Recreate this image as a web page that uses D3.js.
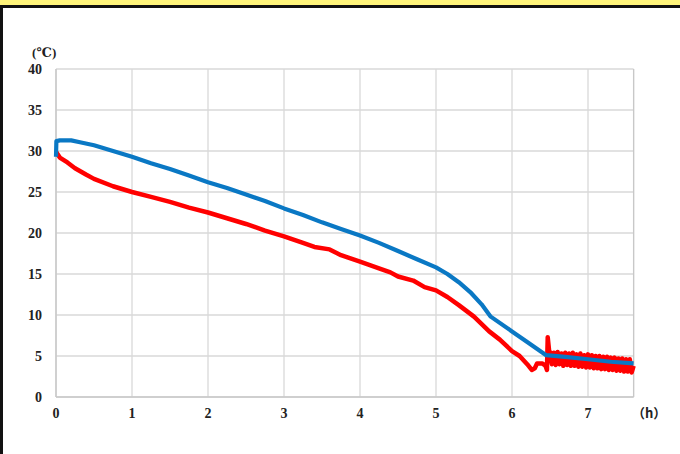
<!DOCTYPE html>
<html><head><meta charset="utf-8">
<script src="https://cdn.jsdelivr.net/npm/d3@7"></script>
<style>html,body{margin:0;padding:0;background:#fff;overflow:hidden}
.cjk{font-family:"Noto Sans CJK SC","Noto Sans CJK JP",sans-serif;}
</style>
</head><body>
<svg id="c" width="680" height="454"></svg>
<script>
const xTicks = [0,1,2,3,4,5,6,7];
const yTicks = [0,5,10,15,20,25,30,35,40];
const yUnit = "(℃)";
const xUnit = "（h）";

const blueT = [0,0.005,0.05,0.2,0.3,0.5,0.75,1,1.25,1.5,1.75,2,2.25,2.5,2.75,3,3.25,3.5,3.75,4,4.25,4.5,4.75,5,5.15,5.3,5.45,5.6,5.72,6,6.2,6.45,6.7,7,7.3,7.6];
const blueV = [29.3,31.2,31.3,31.3,31.1,30.7,30.0,29.3,28.5,27.8,27.0,26.2,25.5,24.7,23.9,23.0,22.2,21.3,20.5,19.7,18.8,17.8,16.8,15.8,15.0,14.0,12.8,11.3,9.8,8.0,6.7,5.1,4.9,4.6,4.3,4.1];

const redT = [0,0.05,0.15,0.25,0.4,0.5,0.75,1,1.25,1.5,1.75,2,2.25,2.5,2.75,3,3.25,3.4,3.6,3.75,4,4.25,4.4,4.5,4.7,4.85,5,5.15,5.3,5.5,5.7,5.84,6,6.1,6.2,6.26,6.3,6.33,6.4,6.44,6.46,6.47,6.49,
  6.5,6.525,6.55,6.575,6.6,6.625,6.65,6.675,6.7,6.725,6.75,6.775,6.8,6.825,6.85,6.875,6.9,6.925,6.95,6.975,7.0,7.025,7.05,7.075,7.1,7.125,7.15,7.175,7.2,7.225,7.25,7.275,7.3,7.325,7.35,7.375,7.4,7.425,7.45,7.475,7.5,7.525,7.55,7.575,7.6];
const redV = [29.9,29.2,28.6,27.9,27.1,26.6,25.7,25.0,24.4,23.8,23.1,22.5,21.8,21.1,20.3,19.6,18.8,18.3,18.0,17.3,16.5,15.7,15.2,14.7,14.2,13.4,13.0,12.2,11.2,9.8,8.0,7.0,5.6,5.0,4.0,3.3,3.5,4.1,4.1,3.8,3.3,7.3,5.5,
  5.5,4.0,5.4,3.9,5.5,4.0,5.3,3.8,5.4,3.9,5.3,3.8,5.4,3.8,5.2,3.7,5.3,3.7,5.1,3.6,5.2,3.6,5.1,3.5,5.0,3.5,5.0,3.4,4.9,3.4,4.9,3.3,4.8,3.3,4.8,3.2,4.7,3.2,4.7,3.1,4.6,3.1,4.6,3.0,3.8];

const svg = d3.select("#c");
svg.append("rect").attr("x",0).attr("y",0).attr("width",680).attr("height",6).attr("fill","#fff47a");
svg.append("rect").attr("x",0).attr("y",5).attr("width",680).attr("height",3).attr("fill","#111");
svg.append("rect").attr("x",0).attr("y",6).attr("width",3).attr("height",448).attr("fill","#111");

const x = d3.scaleLinear().domain([0,7.6]).range([56,633.6]);
const y = d3.scaleLinear().domain([0,40]).range([397,69]);

const grid = svg.append("g");
grid.selectAll("line.h").data(yTicks).enter().append("line")
  .attr("x1",x(0)).attr("x2",x(7.6)).attr("y1",d=>y(d)).attr("y2",d=>y(d))
  .attr("stroke","#d9d9d9").attr("stroke-width",1.3);
grid.selectAll("line.v").data(xTicks.concat([7.6])).enter().append("line")
  .attr("x1",d=>x(d)).attr("x2",d=>x(d)).attr("y1",y(0)).attr("y2",y(40))
  .attr("stroke","#d9d9d9").attr("stroke-width",1.3);
svg.append("line").attr("x1",x(0)).attr("x2",x(7.6)).attr("y1",y(0)).attr("y2",y(0)).attr("stroke","#c8c8c8").attr("stroke-width",1.5);
svg.append("line").attr("x1",x(0)).attr("x2",x(0)).attr("y1",y(0)).attr("y2",y(40)).attr("stroke","#c8c8c8").attr("stroke-width",1.5);
svg.append("line").attr("x1",x(7.6)).attr("x2",x(7.6)).attr("y1",y(0)).attr("y2",y(40)).attr("stroke","#c8c8c8").attr("stroke-width",1.2);

const font = "Liberation Serif, DejaVu Serif, serif";
svg.append("g").selectAll("text").data(yTicks).enter().append("text")
  .attr("x",42).attr("y",d=>y(d)+5).attr("text-anchor","end")
  .style("font-family",font).style("font-weight","bold").style("font-size","14px").attr("fill","#222")
  .text(d=>d);
svg.append("g").selectAll("text").data(xTicks).enter().append("text")
  .attr("x",d=>x(d)).attr("y",418).attr("text-anchor","middle")
  .style("font-family",font).style("font-weight","bold").style("font-size","14px").attr("fill","#222")
  .text(d=>d);
svg.append("text").attr("x",32).attr("y",57).style("font-family",font).style("font-weight","bold")
  .style("font-size","13px").attr("fill","#222").text(yUnit);
svg.append("text").attr("class","cjk").attr("x",632).attr("y",418).style("font-weight","bold")
  .style("font-size","13px").attr("fill","#222").text(xUnit);

const line = d3.line().x(d=>x(d[0])).y(d=>y(d[1]));
const red = redT.map((t,i)=>[t,redV[i]]);
const blue = blueT.map((t,i)=>[t,blueV[i]]);
svg.append("path").attr("d",line(red)).attr("fill","none").attr("stroke","#ff0000")
  .attr("stroke-width",4.5).attr("stroke-linejoin","round");
svg.append("path").attr("d",line(blue)).attr("fill","none").attr("stroke","#0a78c4")
  .attr("stroke-width",4.2).attr("stroke-linejoin","round");
</script>
</body></html>
